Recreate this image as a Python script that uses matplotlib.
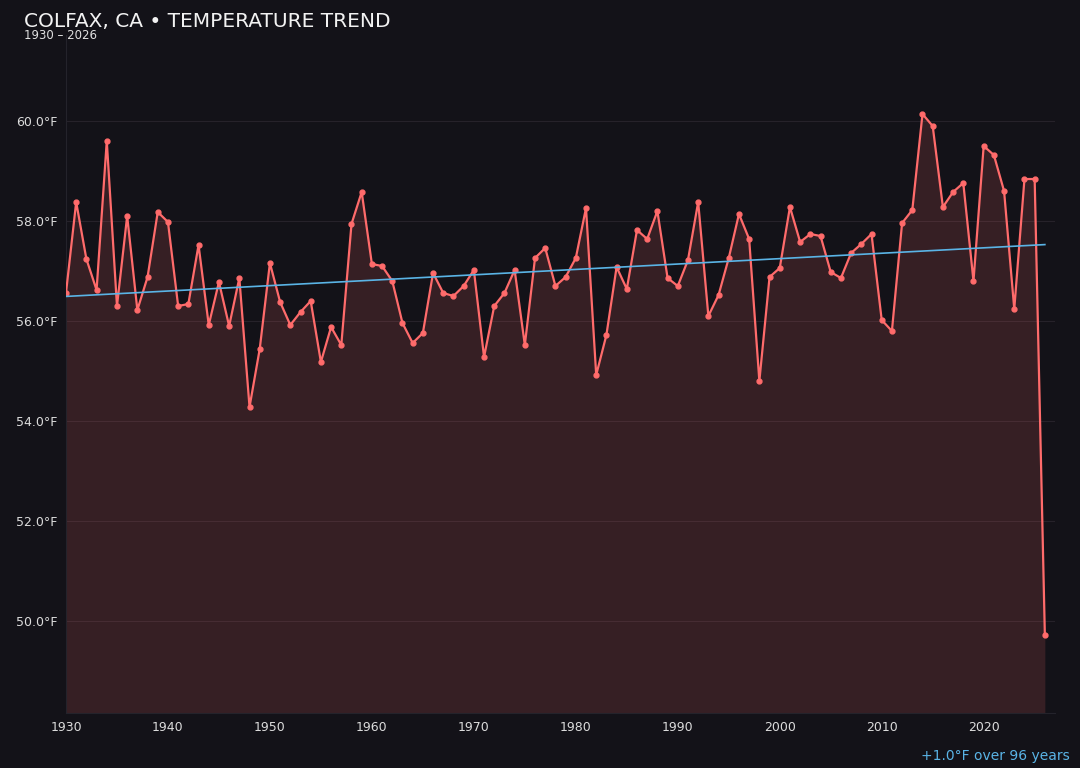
import numpy as np
import matplotlib
matplotlib.use("Agg")
import matplotlib.pyplot as plt

# yearly mean temperature, Colfax CA
years = list(range(1930, 2027))
temps = [
    56.56, 58.38, 57.24, 56.62, 59.60, 56.30, 58.10, 56.22, 56.88, 58.18,
    57.98, 56.30, 56.34, 57.52, 55.92, 56.78, 55.90, 56.86, 54.28, 55.44,
    57.16, 56.38, 55.92, 56.18, 56.40, 55.18, 55.88, 55.52, 57.94, 58.58,
    57.14, 57.10, 56.80, 55.96, 55.56, 55.76, 56.96, 56.56, 56.50, 56.70,
    57.02, 55.28, 56.30, 56.56, 57.02, 55.52, 57.26, 57.46, 56.70, 56.88,
    57.26, 58.26, 54.92, 55.72, 57.08, 56.64, 57.82, 57.64, 58.20, 56.86,
    56.70, 57.22, 58.38, 56.10, 56.52, 57.26, 58.14, 57.64, 54.80, 56.88,
    57.06, 58.28, 57.58, 57.74, 57.70, 56.98, 56.86, 57.36, 57.54, 57.74,
    56.02, 55.80, 57.96, 58.22, 60.14, 59.90, 58.28, 58.58, 58.76, 56.80,
    59.50, 59.32, 58.60, 56.24, 58.84, 58.84, 49.72,
]
title = "COLFAX, CA \u2022 TEMPERATURE TREND"
subtitle = "1930 \u2013 2026"
trend_label = "+1.0\u00b0F over 96 years"

bg = "#131218"
red = "#ff6b6b"
blue = "#5ab4e6"

x = np.array(years)
y = np.array(temps)
slope, icpt = np.polyfit(x, y, 1)

fig = plt.figure(figsize=(10.8, 7.68), dpi=100, facecolor=bg)
ax = fig.add_axes([0.0611, 0.0716, 0.9158, 0.8828])
ax.set_facecolor(bg)

ymin, ymax = 48.16, 61.72
ax.fill_between(x, y, ymin, color=red, alpha=0.15, linewidth=0)
ax.plot(x, y, color=red, lw=1.6, marker="o", ms=3.5, zorder=3)
ax.plot(x, slope * x + icpt, color=blue, lw=1.2, zorder=4)

ax.set_xlim(1930, 2027)
ax.set_ylim(ymin, ymax)
ax.set_xticks(range(1930, 2030, 10))
ax.set_yticks([50, 52, 54, 56, 58, 60])
ax.set_yticklabels([f"{v:.1f}\u00b0F" for v in [50, 52, 54, 56, 58, 60]])
ax.tick_params(colors="#dcdcdc", labelsize=9, length=0, pad=6)
ax.grid(axis="y", color="#26222a", lw=0.8)
ax.set_axisbelow(True)
for s in ["top", "right"]:
    ax.spines[s].set_visible(False)
for s in ["left", "bottom"]:
    ax.spines[s].set_color("#24232b")

fig.text(24 / 1080, 1 - 27 / 768, title, color="#f2f2f2", fontsize=14.5, va="baseline", ha="left")
fig.text(24 / 1080, 1 - 39 / 768, subtitle, color="#e0e0e0", fontsize=8.5, va="baseline", ha="left")
fig.text(1070 / 1080, 1 - 756 / 768, trend_label, color=blue, fontsize=10, va="center", ha="right")

fig.savefig("out.png", dpi=100, facecolor=bg)
